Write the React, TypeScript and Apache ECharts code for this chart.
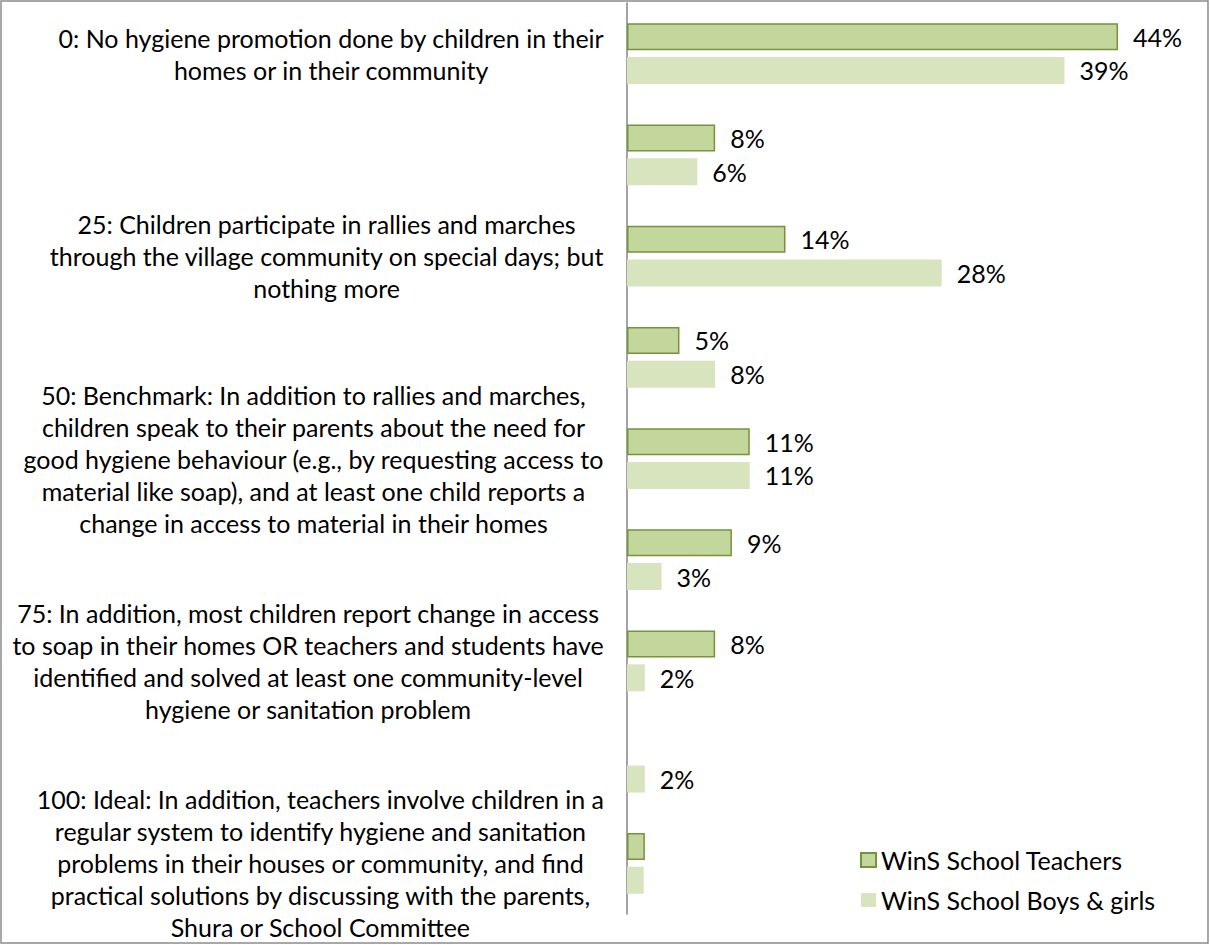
import React, { useEffect, useRef } from 'react';
import * as echarts from 'echarts';

const categories = [
  '0: No hygiene promotion done by children in their\nhomes or in their community',
  '',
  '25: Children participate in rallies and marches\nthrough the village community on special days; but\nnothing more',
  '',
  '50: Benchmark: In addition to rallies and marches,\nchildren speak to their parents about the need for\ngood hygiene behaviour (e.g., by requesting access to\nmaterial like soap), and at least one child reports a\nchange in access to material in their homes',
  '',
  '75: In addition, most children report change in access\nto soap in their homes OR teachers and students have\nidentified and solved at least one community-level\nhygiene or sanitation problem',
  '',
  '100: Ideal: In addition, teachers involve children in a\nregular system to identify hygiene and sanitation\nproblems in their houses or community, and find\npractical solutions by discussing with the parents,\nShura or School Committee',
];

const teachers = [44, 7.9, 14.2, 4.7, 11, 9.4, 7.9, 0, 1.6];
const boysGirls = [39.2, 6.3, 28.2, 7.9, 11, 3.1, 1.6, 1.6, 1.5];
const seriesNames = ['WinS School Teachers', 'WinS School Boys & girls'];
const unlabelledIndex = 8;

const FONT = 'Lato, Carlito, Calibri, sans-serif';

export default function App() {
  const ref = useRef<HTMLDivElement>(null);

  useEffect(() => {
    if (!ref.current) return;
    const chart = echarts.init(ref.current, undefined, { renderer: 'svg' });

    const dataLabel = {
      show: true,
      position: 'right',
      distance: 15,
      fontFamily: FONT,
      fontSize: 25,
      color: '#000',
      formatter: (p: any) =>
        p.dataIndex === unlabelledIndex || !p.value ? '' : Math.round(p.value) + '%',
    };

    const teacherData = teachers.map((v) =>
      v === 0 ? { value: v, itemStyle: { borderWidth: 0 } } : v
    );

    chart.setOption({
      animation: false,
      backgroundColor: '#fff',
      textStyle: { fontFamily: FONT },
      grid: { left: 627, right: 25, top: 3, bottom: 31, containLabel: false },
      xAxis: { type: 'value', min: 0, max: 50, show: false },
      yAxis: {
        type: 'category',
        inverse: true,
        data: categories,
        axisLine: { show: true, lineStyle: { color: '#868686', width: 1.5 } },
        axisTick: { show: false },
        splitLine: { show: false },
        axisLabel: {
          margin: 23,
          interval: 0,
          formatter: (value: string) => {
            if (!value) return '';
            return value
              .split('\n')
              .map((l) => `{c|${l}}`)
              .join('\n');
          },
          rich: {
            c: { align: 'center', fontFamily: FONT, fontSize: 25, lineHeight: 32, color: '#000' },
          },
        },
      },
      legend: {
        orient: 'vertical',
        left: 855,
        top: 840,
        itemWidth: 15,
        itemHeight: 14,
        itemGap: 10,
        icon: 'rect',
        textStyle: { fontFamily: FONT, fontSize: 25, color: '#000', lineHeight: 30 },
        data: seriesNames,
      },
      graphic: [
        {
          type: 'rect',
          shape: { x: 1, y: 1, width: 1207, height: 942 },
          style: { fill: 'none', stroke: '#8c8c8c', lineWidth: 1.5 },
          silent: true,
        },
      ],
      series: [
        {
          name: seriesNames[0],
          type: 'bar',
          data: teacherData,
          barWidth: 27,
          barGap: '25%',
          itemStyle: { color: '#c3d69b', borderColor: '#76923c', borderWidth: 1.5 },
          label: dataLabel,
        },
        {
          name: seriesNames[1],
          type: 'bar',
          data: boysGirls,
          barWidth: 27,
          barGap: '25%',
          itemStyle: { color: '#d7e4bd' },
          label: dataLabel,
        },
      ],
    });

    return () => chart.dispose();
  }, []);

  return (
    <div
      ref={ref}
      style={{ position: 'absolute', left: 0, top: 0, width: 1210, height: 945 }}
    />
  );
}
